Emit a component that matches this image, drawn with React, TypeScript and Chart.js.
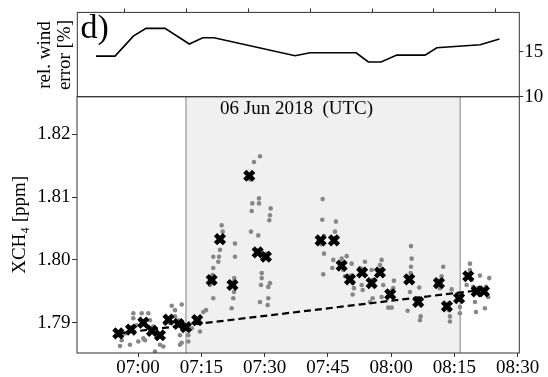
import React, { useEffect, useRef } from "react";
import { Chart, registerables } from "chart.js";

Chart.register(...registerables);

const FONT = "'Liberation Serif', 'Times New Roman', 'DejaVu Serif', serif";

// time axis: minutes after 07:00 UTC
const xTickValues = [0, 15, 30, 45, 60, 75, 90];
const xTickLabels = ["07:00", "07:15", "07:30", "07:45", "08:00", "08:15", "08:30"];
const yTickValues = [1.79, 1.8, 1.81, 1.82];
const windTickValues = [10, 15];
const topTickValues = [0, 15, 30, 45, 60, 75, 90];

const panelLetter = "d)";
const windAxisTitle = ["rel. wind", "error [%]"];
const xch4AxisTitle = "XCH₄ [ppm]";
const dateLabel = "06 Jun 2018  (UTC)";

// relative wind error (top panel)
const windTimes = [-6.86, -2.25, 2.18, 5.26, 9.86, 15.75, 19.0, 21.73, 41.36, 45.0, 56.15, 59.12, 62.2, 66.0, 72.86, 75.7, 86.19, 90.87];
const windError = [14.52, 14.52, 16.74, 17.6, 17.6, 15.86, 16.56, 16.56, 14.56, 14.89, 14.89, 13.86, 13.86, 14.63, 14.63, 15.44, 15.78, 16.41];

// averaged XCH4 (black crosses)
const meanTimes = [-4.67, -1.66, 1.26, 3.32, 5.21, 7.23, 9.6, 11.37, 14.03, 17.46, 19.43, 22.39, 26.37, 28.36, 30.33, 43.29, 46.45, 48.27, 50.24, 53.13, 55.38, 57.35, 59.79, 64.29, 66.42, 71.33, 73.22, 76.11, 78.27, 80.26, 81.99];
const meanXCH4 = [1.7883, 1.7889, 1.79, 1.7887, 1.788, 1.7905, 1.7898, 1.7893, 1.7904, 1.7968, 1.8033, 1.796, 1.8134, 1.8012, 1.8005, 1.8031, 1.8031, 1.7991, 1.7969, 1.798, 1.7963, 1.798, 1.7945, 1.7969, 1.7933, 1.7963, 1.7926, 1.7939, 1.7974, 1.795, 1.795];

// individual soundings (grey dots)
const soundingTimes = [
  -4.27, -3.86, -3.08, -1.9, -1.11, -1.11, -0.31, 0.07, 0.88, 0.88, 1.26, 2.44, 2.84, 3.63, 4.03, 4.81, 5.21, 6.0, 6.4, 7.99, 8.77, 8.77, 9.55, 9.95, 9.95, 10.36, 11.92, 11.92, 12.73, 14.69, 15.47, 16.11, 1.66, 10.36,
  17.84, 17.7, 17.84, 17.84, 17.06, 17.47, 17.84,
  19.83, 20.07, 19.43, 19.2, 19.03, 19.43,
  22.99, 22.99, 22.82, 22.75, 22.58, 22.2,
  28.91, 27.49, 27.09, 26.95, 26.78, 28.51,
  28.68, 28.68, 29.32, 29.32, 29.15, 28.91,
  31.45, 31.28, 31.12, 31.28, 30.88, 30.88, 30.74,
  43.77, 43.68, 44.08, 44.08, 43.91, 42.73,
  46.92, 46.69, 46.28, 46.05,
  48.27, 49.46, 48.66, 49.06,
  50.64, 50.88, 50.88, 51.19,
  53.8, 53.02, 53.25, 52.61,
  55.38, 55.62, 54.98,
  57.75, 57.35, 58.13, 57.75,
  60.67, 60.5, 60.12, 59.32,
  64.7, 64.86, 64.7, 64.63, 64.46, 63.91,
  66.66, 67.0, 66.83, 66.05,
  72.35, 71.97, 71.57, 70.79,
  74.34, 73.94, 73.94, 73.7,
  76.31, 76.31, 76.71,
  78.68, 78.68, 77.89, 79.08,
  81.05, 79.87, 80.1, 79.46,
  82.47, 83.25, 82.23, 83.02,
  -4.5, -1.3, 3.0, 7.5, 11.0, 13.6, 17.3, 19.6, 22.6, 26.6, 28.2, 30.6, 43.5, 46.6, 48.5, 50.5, 53.4, 55.6, 57.6, 60.0, 64.5, 66.7, 71.6, 73.5, 76.4, 78.5, 80.5, 82.2,
];
const soundingXCH4 = [
  1.7863, 1.7872, 1.7883, 1.7865, 1.7915, 1.7907, 1.7896, 1.787, 1.7915, 1.7896, 1.7875, 1.7915, 1.7904, 1.7894, 1.7854, 1.7878, 1.7865, 1.7862, 1.7899, 1.7927, 1.792, 1.791, 1.7904, 1.788, 1.7865, 1.7929, 1.787, 1.788, 1.7891, 1.7886, 1.7917, 1.792, 1.7872, 1.7868,
  1.7987, 1.7976, 1.7963, 1.7939, 1.796, 1.7973, 1.8005,
  1.8055, 1.8045, 1.8016, 1.8005, 1.7997, 1.8031,
  1.8026, 1.8005, 1.7971, 1.7949, 1.7939, 1.7923,
  1.8165, 1.8156, 1.809, 1.8078, 1.8045, 1.8039,
  1.8098, 1.809, 1.7979, 1.7971, 1.796, 1.7933,
  1.8082, 1.8071, 1.8063, 1.7963, 1.7957, 1.7939, 1.7928,
  1.8097, 1.8064, 1.8038, 1.801, 1.7977, 1.8029,
  1.8061, 1.8045, 1.8, 1.7987,
  1.8002, 1.8006, 1.7984, 1.7974,
  1.7994, 1.7963, 1.7945, 1.7955,
  1.7997, 1.796, 1.7952, 1.7987,
  1.7984, 1.7939, 1.7933,
  1.8, 1.7992, 1.796, 1.7941,
  1.7967, 1.7955, 1.7924, 1.7924,
  1.8022, 1.8002, 1.7989, 1.7979, 1.7949, 1.7919,
  1.7956, 1.791, 1.7904, 1.7939,
  1.7989, 1.7974, 1.7955, 1.7963,
  1.7953, 1.791, 1.7902, 1.792,
  1.7925, 1.7915, 1.7942,
  1.7994, 1.7984, 1.796, 1.7968,
  1.7975, 1.7933, 1.7917, 1.7957,
  1.7957, 1.7971, 1.7923, 1.7941,
  1.788, 1.7893, 1.789, 1.79, 1.7897, 1.7908, 1.7965, 1.803, 1.7965, 1.8128, 1.8015, 1.801, 1.8025, 1.8035, 1.7995, 1.7975, 1.7985, 1.7968, 1.7985, 1.795, 1.7972, 1.7937, 1.7967, 1.793, 1.7944, 1.7978, 1.7955, 1.7954,
];

// background trend (dashed)
const trendTimes = [-4.67, 82.5];
const trendXCH4 = [1.7883, 1.7953];

// shaded overpass window
const overpassWindow = [11.37, 76.37];

const mainDecor = {
  id: "mainDecor",
  beforeDatasetsDraw(chart: any) {
    const { ctx, chartArea: a, scales } = chart;
    const x0 = scales.x.getPixelForValue(overpassWindow[0]);
    const x1 = scales.x.getPixelForValue(overpassWindow[1]);
    ctx.save();
    ctx.fillStyle = "#f0f0f0";
    ctx.fillRect(x0, a.top, x1 - x0, a.bottom - a.top);
    ctx.strokeStyle = "#aaaaaa";
    ctx.lineWidth = 1.5;
    ctx.beginPath();
    ctx.moveTo(x0, a.top);
    ctx.lineTo(x0, a.bottom);
    ctx.moveTo(x1, a.top);
    ctx.lineTo(x1, a.bottom);
    ctx.stroke();
    ctx.fillStyle = "#000";
    ctx.font = `19px ${FONT}`;
    ctx.textAlign = "left";
    ctx.textBaseline = "alphabetic";
    ctx.fillText(dateLabel, a.left + 143, a.top + 16.8);
    ctx.restore();
  },
  afterDraw(chart: any) {
    const { ctx, chartArea: a } = chart;
    ctx.save();
    ctx.strokeStyle = "#333";
    ctx.lineWidth = 1;
    ctx.strokeRect(a.left, a.top, a.right - a.left, a.bottom - a.top);
    ctx.restore();
  },
};

const topDecor = {
  id: "topDecor",
  afterDraw(chart: any) {
    const { ctx, chartArea: a } = chart;
    ctx.save();
    ctx.strokeStyle = "#333";
    ctx.lineWidth = 1;
    ctx.strokeRect(a.left, a.top, a.right - a.left, a.bottom - a.top);
    ctx.fillStyle = "#000";
    ctx.font = `34px ${FONT}`;
    ctx.textAlign = "left";
    ctx.textBaseline = "alphabetic";
    ctx.fillText(panelLetter, a.left + 3.2, a.top + 25.7);
    ctx.font = `19px ${FONT}`;
    ctx.textAlign = "center";
    const cy = (a.top + a.bottom) / 2 + 0.5;
    windAxisTitle.forEach((line, i) => {
      ctx.save();
      ctx.translate(49.5 + i * 20.5, cy);
      ctx.rotate(-Math.PI / 2);
      ctx.fillText(line, 0, 0);
      ctx.restore();
    });
    ctx.restore();
  },
};

const tickFont = { family: FONT, size: 19 };

export default function App() {
  const mainRef = useRef<HTMLCanvasElement | null>(null);
  const topRef = useRef<HTMLCanvasElement | null>(null);

  useEffect(() => {
    const main = new Chart(mainRef.current as HTMLCanvasElement, {
      type: "scatter",
      data: {
        datasets: [
          {
            label: "mean",
            data: meanTimes.map((t, i) => ({ x: t, y: meanXCH4[i] })),
            pointStyle: "crossRot",
            pointRadius: 6.3,
            pointBorderWidth: 4.6,
            pointBorderColor: "#000",
            pointBackgroundColor: "#000",
            borderColor: "#000",
            showLine: false,
          } as any,
          {
            label: "trend",
            data: trendTimes.map((t, i) => ({ x: t, y: trendXCH4[i] })),
            showLine: true,
            borderColor: "#000",
            borderWidth: 2.2,
            borderDash: [7, 4],
            pointRadius: 0,
          } as any,
          {
            label: "soundings",
            data: soundingTimes.map((t, i) => ({ x: t, y: soundingXCH4[i] })),
            pointRadius: 2.3,
            pointBackgroundColor: "#878787",
            backgroundColor: "#878787",
            pointBorderWidth: 0,
            borderWidth: 0,
          } as any,
        ],
      },
      options: {
        responsive: false,
        animation: false,
        devicePixelRatio: 1,
        layout: { padding: { top: 96.7, right: 28.7, bottom: 0, left: 0 } },
        plugins: { legend: { display: false }, tooltip: { enabled: false } },
        scales: {
          x: {
            type: "linear",
            position: "bottom",
            min: -14.46,
            max: 90.38,
            afterBuildTicks: (s: any) => {
              s.ticks = xTickValues.map((v) => ({ value: v }));
            },
            afterFit: (s: any) => {
              s.height = 24;
            },
            grid: { drawOnChartArea: false, drawTicks: true, tickLength: 4, tickColor: "#333", lineWidth: 1 },
            border: { display: false },
            ticks: {
              padding: 0,
              color: "#000",
              font: tickFont,
              maxRotation: 0,
              autoSkip: false,
              callback: (v: any) => {
                const i = xTickValues.indexOf(Number(v));
                return i >= 0 ? xTickLabels[i] : "";
              },
            },
          },
          y: {
            type: "linear",
            position: "left",
            min: 1.785175,
            max: 1.82599,
            afterBuildTicks: (s: any) => {
              s.ticks = yTickValues.map((v) => ({ value: v }));
            },
            afterFit: (s: any) => {
              s.width = 77;
            },
            grid: { drawOnChartArea: false, drawTicks: true, tickLength: 5, tickColor: "#333", lineWidth: 1 },
            border: { display: false },
            ticks: {
              padding: 1.5,
              color: "#000",
              font: tickFont,
              callback: (v: any) => Number(v).toFixed(2),
            },
            title: {
              display: true,
              text: xch4AxisTitle,
              color: "#000",
              font: { family: FONT, size: 19 },
              padding: { top: 9, bottom: 0 },
            },
          },
        },
      } as any,
      plugins: [mainDecor],
    });

    const top = new Chart(topRef.current as HTMLCanvasElement, {
      type: "scatter",
      data: {
        datasets: [
          {
            label: "wind",
            data: windTimes.map((t, i) => ({ x: t, y: windError[i] })),
            showLine: true,
            borderColor: "#000",
            borderWidth: 1.6,
            pointRadius: 0,
            tension: 0,
          } as any,
        ],
      },
      options: {
        responsive: false,
        animation: false,
        devicePixelRatio: 1,
        layout: { padding: { top: 0, right: 0, bottom: 280.3, left: 77.3 } },
        plugins: { legend: { display: false }, tooltip: { enabled: false } },
        scales: {
          x: {
            type: "linear",
            position: "top",
            min: -11.39,
            max: 95.68,
            afterBuildTicks: (s: any) => {
              s.ticks = topTickValues.map((v) => ({ value: v }));
            },
            afterFit: (s: any) => {
              s.height = 12.3;
            },
            grid: { drawOnChartArea: false, drawTicks: true, tickLength: 4, tickColor: "#333", lineWidth: 1 },
            border: { display: false },
            ticks: { display: false },
          },
          y: {
            type: "linear",
            position: "right",
            min: 10,
            max: 19.38,
            afterBuildTicks: (s: any) => {
              s.ticks = windTickValues.map((v) => ({ value: v }));
            },
            afterFit: (s: any) => {
              s.width = 28.7;
            },
            grid: { drawOnChartArea: false, drawTicks: true, tickLength: 4, tickColor: "#333", lineWidth: 1 },
            border: { display: false },
            ticks: { padding: 1, color: "#000", font: tickFont, callback: (v: any) => String(v) },
          },
        },
      } as any,
      plugins: [topDecor],
    });

    return () => {
      main.destroy();
      top.destroy();
    };
  }, []);

  return (
    <div style={{ position: "fixed", left: 0, top: 0, width: 548, height: 377, background: "#fff" }}>
      <canvas ref={mainRef} width={548} height={377} style={{ position: "absolute", left: 0, top: 0 }} />
      <canvas ref={topRef} width={548} height={377} style={{ position: "absolute", left: 0, top: 0 }} />
    </div>
  );
}
